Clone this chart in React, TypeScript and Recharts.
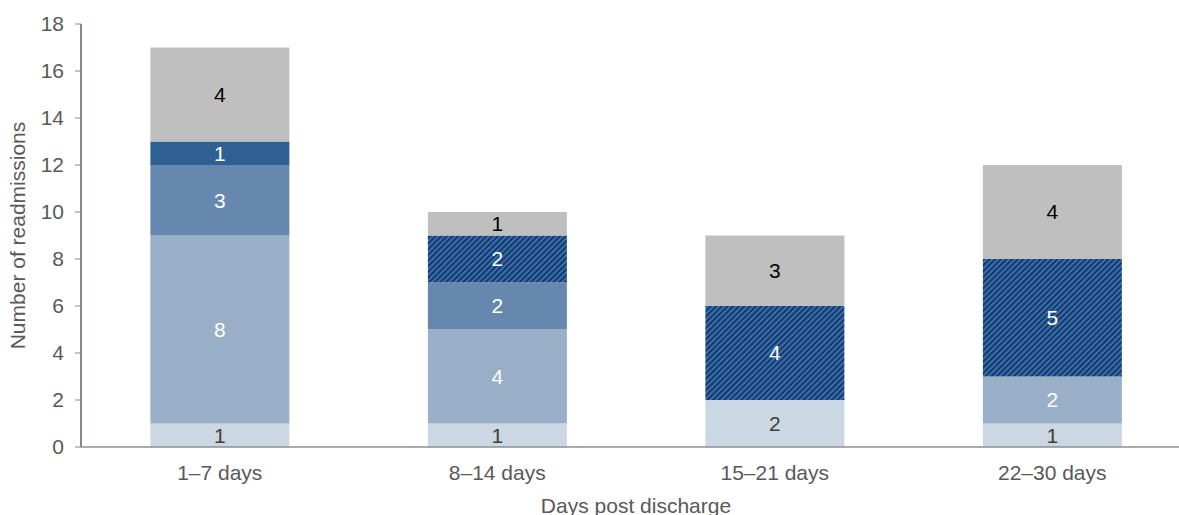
import React from 'react';
import { BarChart, Bar, XAxis, YAxis, LabelList } from 'recharts';

const categories = ['1–7 days', '8–14 days', '15–21 days', '22–30 days'];
const lightest = [1, 1, 2, 1];
const light = [8, 4, 0, 2];
const medium = [3, 2, 0, 0];
const hatched = [0, 2, 4, 5];
const darkSolid = [1, 0, 0, 0];
const grey = [4, 1, 3, 4];
const yTicks = [0, 2, 4, 6, 8, 10, 12, 14, 16, 18];

const data = categories.map((name, i) => ({
  name,
  lightest: lightest[i],
  light: light[i],
  medium: medium[i],
  hatched: hatched[i],
  darkSolid: darkSolid[i],
  grey: grey[i],
}));

const FONT = '"Liberation Sans", Arial, sans-serif';

const series = [
  { key: 'lightest', fill: '#cbd7e3', label: '#404040' },
  { key: 'light', fill: '#99afc8', label: '#ffffff' },
  { key: 'medium', fill: '#6688ae', label: '#ffffff' },
  { key: 'hatched', fill: 'url(#hatch)', label: '#ffffff' },
  { key: 'darkSolid', fill: '#305f92', label: '#ffffff' },
  { key: 'grey', fill: '#bfbfbf', label: '#000000' },
];

const hideZero = (v: any) => (v ? v : '');

export default function App() {
  return (
    <div style={{ position: 'absolute', left: 0, top: 0, width: 1179, height: 515, overflow: 'hidden', background: '#fff' }}>
      <svg width={0} height={0} style={{ position: 'absolute' }}>
        <defs>
          <pattern id="hatch" width={4} height={4} patternUnits="userSpaceOnUse" patternTransform="rotate(45)">
            <rect width={4} height={4} fill="#0f3b72" />
            <line x1={1} y1={0} x2={1} y2={4} stroke="#4a7ab2" strokeWidth={1.6} />
          </pattern>
        </defs>
      </svg>
      <BarChart
        width={1200}
        height={515}
        data={data}
        margin={{ top: 24, right: 9, bottom: 0, left: 0 }}
        barCategoryGap="25%"
        style={{ fontFamily: FONT }}
      >
        <XAxis
          dataKey="name"
          height={68}
          tickLine={false}
          axisLine={{ stroke: '#8f8f8f', strokeWidth: 1.5 }}
          tick={{ fontSize: 21, fill: '#595959', fontFamily: FONT }}
          tickMargin={12}
          label={{ value: 'Days post discharge', position: 'insideBottom', offset: 2, fontSize: 21, fill: '#595959', fontFamily: FONT }}
        />
        <YAxis
          width={81}
          domain={[0, 18]}
          ticks={yTicks}
          interval={0}
          axisLine={{ stroke: '#7f8c8c', strokeWidth: 2 }}
          tickLine={{ stroke: '#7f8c8c' }}
          tickSize={6}
          tickMargin={11}
          tick={{ fontSize: 21, fill: '#595959', fontFamily: FONT }}
          label={{ value: 'Number of readmissions', angle: -90, position: 'insideLeft', offset: 18, fontSize: 21, fill: '#595959', fontFamily: FONT, style: { textAnchor: 'middle' } }}
        />
        {series.map((s) => (
          <Bar key={s.key} dataKey={s.key} stackId="a" fill={s.fill} isAnimationActive={false}>
            <LabelList dataKey={s.key} position="center" formatter={hideZero} fill={s.label} fontSize={21} fontFamily={FONT} />
          </Bar>
        ))}
      </BarChart>
    </div>
  );
}
